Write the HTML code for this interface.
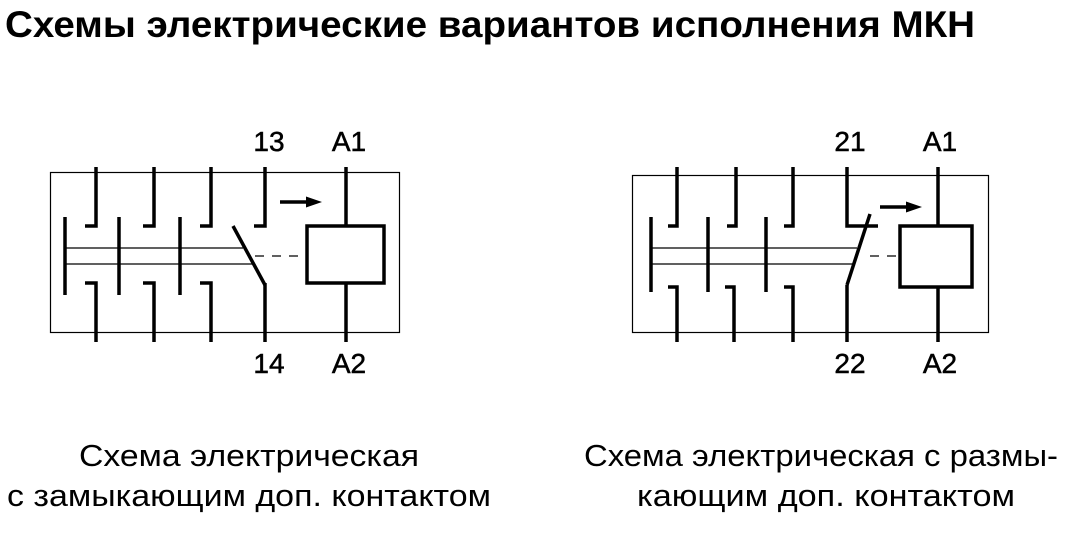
<!DOCTYPE html>
<html><head><meta charset="utf-8"><style>
html,body{margin:0;padding:0;background:#fff;}
svg{display:block;}
text{font-family:"Liberation Sans","DejaVu Sans",sans-serif;fill:#000;}
</style></head><body>
<svg width="1067" height="556" viewBox="0 0 1067 556" xmlns="http://www.w3.org/2000/svg">
<text x="5" y="37" font-size="37" font-weight="bold" textLength="970" lengthAdjust="spacingAndGlyphs">Схемы электрические вариантов исполнения МКН</text>

<!-- LEFT -->
<g fill="none" stroke="#000">
<rect x="50.5" y="172.5" width="349" height="160" stroke-width="1.2"/>
<g stroke-width="3.5">
<path d="M96 167V226H85 M154 167V226H143 M211 167V226H200 M265 167V226H254"/>
<path d="M96 342V283H85 M154 342V283H143 M211 342V283H200 M265 342V283"/>
<path d="M65 217V295 M119 217V295 M180 217V295"/>
<path d="M233 226L265 285"/>
<path d="M346 167V226 M346 283V342"/>
<rect x="307" y="226" width="77" height="57"/>
<path d="M280 202H310"/>
</g>
<path d="M65 248H243 M65 264H253" stroke-width="1.3"/>
<path d="M255 256H307" stroke-width="1.3" stroke-dasharray="9,8"/>
</g>
<path d="M322 202L306 196.5L306 207.5Z" fill="#000"/>
<g font-size="28" stroke="#000" stroke-width="0.5">
<text x="269" y="151" text-anchor="middle">13</text>
<text x="349" y="151" text-anchor="middle">A1</text>
<text x="269" y="373" text-anchor="middle">14</text>
<text x="349" y="373" text-anchor="middle">A2</text>
</g>

<!-- RIGHT -->
<g fill="none" stroke="#000">
<rect x="632.5" y="175.5" width="356" height="157" stroke-width="1.2"/>
<g stroke-width="3.5">
<path d="M677 167V226H668 M736 167V226H727 M793 167V226H784 M847 167V226H878"/>
<path d="M677 342V287H668 M734 342V287H725 M793 342V287H784 M847 342V285"/>
<path d="M651 217V292 M708 217V292 M766 217V292"/>
<path d="M847 285L870 214"/>
<path d="M938 167V226 M938 287V342"/>
<rect x="900" y="226" width="72" height="61"/>
<path d="M880 207H910"/>
</g>
<path d="M651 248H857 M651 264H853" stroke-width="1.3"/>
<path d="M870 256H900" stroke-width="1.3" stroke-dasharray="9,8"/>
</g>
<path d="M922 207L906 201.5L906 212.5Z" fill="#000"/>
<g font-size="28" stroke="#000" stroke-width="0.5">
<text x="850" y="151" text-anchor="middle">21</text>
<text x="940" y="151" text-anchor="middle">A1</text>
<text x="850" y="373" text-anchor="middle">22</text>
<text x="940" y="373" text-anchor="middle">A2</text>
</g>

<!-- captions -->
<g font-size="31" text-anchor="middle">
<text x="249" y="466" textLength="340" lengthAdjust="spacingAndGlyphs">Схема электрическая</text>
<text x="249" y="506" textLength="484" lengthAdjust="spacingAndGlyphs">с замыкающим доп. контактом</text>
<text x="821" y="466" textLength="474" lengthAdjust="spacingAndGlyphs">Схема электрическая с размы-</text>
<text x="826" y="506" textLength="378" lengthAdjust="spacingAndGlyphs">кающим доп. контактом</text>
</g>
</svg>
</body></html>
